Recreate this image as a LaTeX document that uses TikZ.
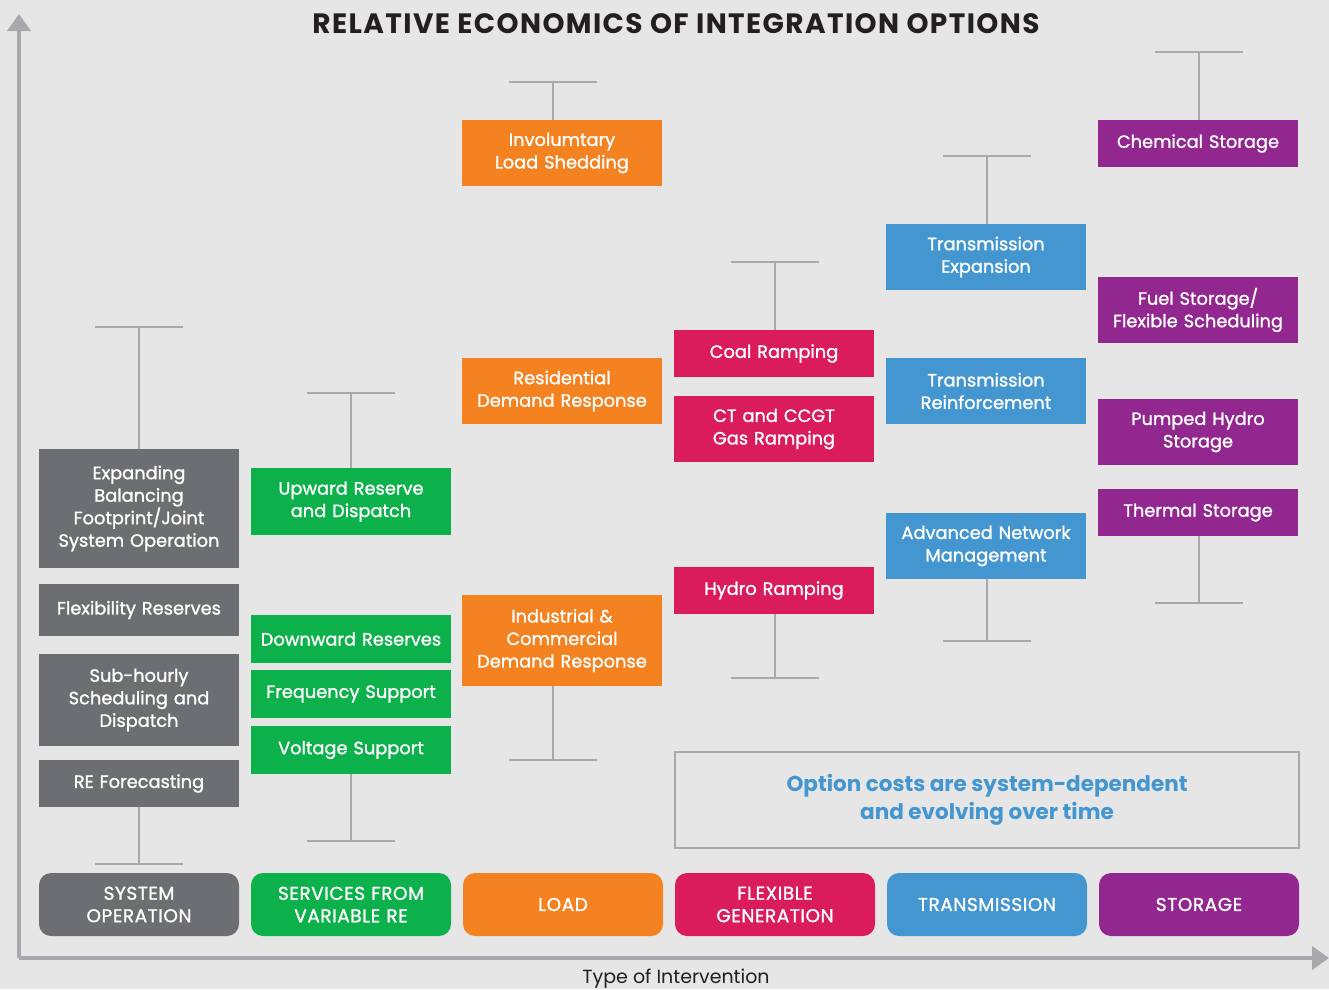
\documentclass[tikz,border=0pt]{standalone}
\usepackage{fontspec}
\setmainfont{Poppins}
\newfontfamily\medfont{Poppins}[FakeBold=1.3]
\usetikzlibrary{arrows.meta}

\definecolor{bggray}{HTML}{E6E6E6}
\definecolor{axisgray}{HTML}{A7A9AC}
\definecolor{titleblack}{HTML}{231F20}
\definecolor{sysgray}{HTML}{6D6E71}
\definecolor{regreen}{HTML}{0DB14B}
\definecolor{loadorange}{HTML}{F58220}
\definecolor{flexred}{HTML}{DA1C5C}
\definecolor{transblue}{HTML}{4496D1}
\definecolor{storpurple}{HTML}{92278F}

\begin{document}
\begin{tikzpicture}[
    x=1pt, y=-1pt,
    opt/.style={rectangle, minimum width=200pt, text width=196pt, align=center, inner sep=0pt, text=white, font=\medfont\fontsize{17.8}{22.5}\selectfont},
    sysopt/.style={opt, fill=sysgray},
    reopt/.style={opt, fill=regreen},
    loadopt/.style={opt, fill=loadorange},
    flexopt/.style={opt, fill=flexred},
    transopt/.style={opt, fill=transblue},
    storopt/.style={opt, fill=storpurple},
    category/.style={opt, rounded corners=12pt, minimum height=63pt, font=\medfont\fontsize{18.5}{22.5}\selectfont\addfontfeature{LetterSpace=3}},
    errbar/.style={draw=axisgray, line width=2pt},
    axis/.style={draw=axisgray, line width=4.5pt, -{Triangle[width=23pt,length=17pt]}}
]

% Canvas
\useasboundingbox (0,0) rectangle (1329,989);
\fill[bggray] (0,0) rectangle (1329,989);

% Axes
\coordinate (origin) at (19,958);
\coordinate (ytip) at (19,14);
\coordinate (xtip) at (1329,958);
\draw[axis] (origin) -- (ytip);
\draw[axis] (origin) -- (xtip);

\node[font=\fontsize{28}{32}\bfseries\addfontfeature{LetterSpace=5}, text=titleblack] (title) at (676,24) {RELATIVE ECONOMICS OF INTEGRATION OPTIONS};
\node[font=\fontsize{19}{22}\selectfont, text=titleblack] (xlabel) at (676,979) {Type of Intervention};

% Column 1: system operation
\node[sysopt, minimum height=119pt] (expand) at (139,508.5) {Expanding\\Balancing\\Footprint/Joint\\System Operation};
\node[sysopt, minimum height=52pt] (flexres) at (139,610) {Flexibility Reserves};
\node[sysopt, minimum height=92pt] (subhourly) at (139,700) {Sub-hourly\\Scheduling and\\Dispatch};
\node[sysopt, minimum height=47pt] (reforecast) at (139,783.5) {RE Forecasting};

% Column 2: services from variable RE
\node[reopt, minimum height=67pt] (upward) at (351,501.5) {Upward Reserve\\and Dispatch};
\node[reopt, minimum height=48pt] (downward) at (351,639) {Downward Reserves};
\node[reopt, minimum height=48pt] (frequency) at (351,694) {Frequency Support};
\node[reopt, minimum height=48pt] (voltage) at (351,750) {Voltage Support};

% Column 3: load
\node[loadopt, minimum height=66pt] (shedding) at (562,153) {Involumtary\\Load Shedding};
\node[loadopt, minimum height=66pt] (residential) at (562,391) {Residential\\Demand Response};
\node[loadopt, minimum height=91pt] (industrial) at (562,640.5) {Industrial \&\\Commercial\\Demand Response};

% Column 4: flexible generation
\node[flexopt, minimum height=47pt] (coal) at (774,353.5) {Coal Ramping};
\node[flexopt, minimum height=66pt] (gas) at (774,429) {CT and CCGT\\Gas Ramping};
\node[flexopt, minimum height=47pt] (hydro) at (774,590.5) {Hydro Ramping};

% Column 5: transmission
\node[transopt, minimum height=66pt] (expansion) at (986,257) {Transmission\\Expansion};
\node[transopt, minimum height=66pt] (reinforce) at (986,391) {Transmission\\Reinforcement};
\node[transopt, minimum height=66pt] (network) at (986,546) {Advanced Network\\Management};

% Column 6: storage
\node[storopt, minimum height=47pt] (chemical) at (1198,143.5) {Chemical Storage};
\node[storopt, minimum height=66pt] (fuel) at (1198,310) {Fuel Storage/\\Flexible Scheduling};
\node[storopt, minimum height=66pt] (pumped) at (1198,432) {Pumped Hydro\\Storage};
\node[storopt, minimum height=47pt] (thermal) at (1198,512.5) {Thermal Storage};

% Range bars (top and bottom of each column)
\coordinate (systop) at (139,327);
\coordinate (sysbot) at (139,864);
\coordinate (retop) at (351,393);
\coordinate (rebot) at (351,841);
\coordinate (loadtop) at (553,82);
\coordinate (loadbot) at (553,760);
\coordinate (flextop) at (775,262);
\coordinate (flexbot) at (775,678);
\coordinate (transtop) at (987,156);
\coordinate (transbot) at (987,641);
\coordinate (stortop) at (1199,52);
\coordinate (storbot) at (1199,603);

\draw[errbar] (expand.north) -- (systop) ++(-44,0) -- ++(88,0);
\draw[errbar] (reforecast.south) -- (sysbot) ++(-44,0) -- ++(88,0);
\draw[errbar] (upward.north) -- (retop) ++(-44,0) -- ++(88,0);
\draw[errbar] (voltage.south) -- (rebot) ++(-44,0) -- ++(88,0);
\draw[errbar] ([xshift=-9pt]shedding.north) -- (loadtop) ++(-44,0) -- ++(88,0);
\draw[errbar] ([xshift=-9pt]industrial.south) -- (loadbot) ++(-44,0) -- ++(88,0);
\draw[errbar] ([xshift=1pt]coal.north) -- (flextop) ++(-44,0) -- ++(88,0);
\draw[errbar] ([xshift=1pt]hydro.south) -- (flexbot) ++(-44,0) -- ++(88,0);
\draw[errbar] ([xshift=1pt]expansion.north) -- (transtop) ++(-44,0) -- ++(88,0);
\draw[errbar] ([xshift=1pt]network.south) -- (transbot) ++(-44,0) -- ++(88,0);
\draw[errbar] ([xshift=1pt]chemical.north) -- (stortop) ++(-44,0) -- ++(88,0);
\draw[errbar] ([xshift=1pt]thermal.south) -- (storbot) ++(-44,0) -- ++(88,0);

% Note
\node[draw=axisgray, line width=2pt, minimum width=624pt, minimum height=96pt, text=transblue, align=center, font=\fontsize{21.5}{28}\bfseries] (note) at (987,800) {Option costs are system-dependent\\and evolving over time};

% Categories
\node[category, fill=sysgray] (catsys) at (139,904.5) {SYSTEM\\OPERATION};
\node[category, fill=regreen] (catre) at (351,904.5) {SERVICES FROM\\VARIABLE RE};
\node[category, fill=loadorange] (catload) at (563,904.5) {LOAD};
\node[category, fill=flexred] (catflex) at (775,904.5) {FLEXIBLE\\GENERATION};
\node[category, fill=transblue] (cattrans) at (987,904.5) {TRANSMISSION};
\node[category, fill=storpurple] (catstor) at (1199,904.5) {STORAGE};

\end{tikzpicture}
\end{document}
